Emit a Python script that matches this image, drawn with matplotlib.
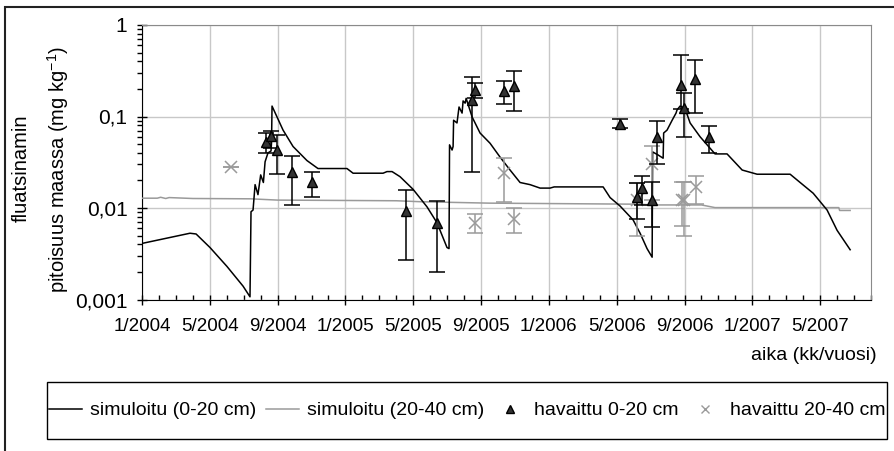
import matplotlib
matplotlib.use('Agg')
import matplotlib.pyplot as plt
from matplotlib.patches import Rectangle
from matplotlib.lines import Line2D
from matplotlib.ticker import FixedLocator, NullFormatter, LogLocator

plt.rcParams['font.family'] = ['Liberation Sans', 'DejaVu Sans']
plt.rcParams['mathtext.default'] = 'regular'

# time in months since 1/2004
sim_top_t = [0.00, 2.83, 3.19, 4.01, 5.01, 5.96, 6.37, 6.43, 6.55, 6.67, 6.84, 7.00, 7.16, 7.26,
             7.43, 7.61, 7.64, 7.67, 8.32, 8.91, 9.73, 10.38, 12.09, 12.45, 14.22, 14.45, 14.75,
             15.22, 15.99, 16.81, 17.40, 17.99, 18.11, 18.14, 18.29, 18.35, 18.38, 18.58, 18.70,
             18.88, 18.94, 19.06, 19.12, 19.47, 19.94, 20.53, 21.12, 21.71, 22.30, 22.89, 23.48,
             24.07, 24.31, 27.20, 27.61, 28.20, 28.97, 29.38, 29.79, 30.09, 30.12, 30.44, 30.74,
             30.77, 30.97, 31.27, 31.50, 31.56, 31.74, 31.92, 31.98, 32.33, 32.92, 33.80, 34.51,
             35.40, 36.28, 38.23, 38.82, 39.59, 40.41, 41.00, 41.77]
sim_top_c = [0.0041, 0.0053, 0.0052, 0.0037, 0.0023, 0.0014, 0.00107, 0.0091, 0.0095, 0.018, 0.014,
             0.023, 0.019, 0.032, 0.040, 0.042, 0.052, 0.13, 0.071, 0.047, 0.033, 0.027, 0.027,
             0.024, 0.024, 0.025, 0.025, 0.022, 0.016, 0.0103, 0.0069, 0.0037, 0.0036, 0.049,
             0.043, 0.047, 0.091, 0.085, 0.127, 0.109, 0.148, 0.14, 0.158, 0.099, 0.066, 0.051,
             0.036, 0.026, 0.019, 0.018, 0.0165, 0.0165, 0.017, 0.017, 0.013, 0.0105, 0.0074,
             0.0053, 0.0036, 0.0029, 0.041, 0.038, 0.035, 0.066, 0.071, 0.091, 0.109, 0.118,
             0.13, 0.125, 0.13, 0.085, 0.06, 0.039, 0.039, 0.026, 0.0234, 0.0234, 0.019, 0.0145,
             0.0095, 0.0057, 0.0035]

sim_sub_t = [0.0, 0.9, 1.1, 1.4, 1.6, 3.0, 6.4, 8.0, 15.0, 16.5, 20.5, 29.4, 30.0, 33.0, 33.8,
             41.1, 41.15, 41.77]
sim_sub_c = [0.0128, 0.0128, 0.0131, 0.0127, 0.0130, 0.0127, 0.0126, 0.0122, 0.0120, 0.0117,
             0.0113, 0.0110, 0.0108, 0.0108, 0.0101, 0.0101, 0.0094, 0.0094]

obs_top_t = [7.32, 7.59, 7.98, 8.83, 10.05, 15.58, 17.39, 19.45, 19.65, 21.36, 21.95, 28.20,
             29.19, 29.48, 30.07, 30.40, 31.80, 31.98, 32.63, 33.47]
obs_top_c = [0.053, 0.061, 0.043, 0.0245, 0.019, 0.0093, 0.0068, 0.152, 0.195, 0.19, 0.215, 0.083,
             0.0133, 0.0164, 0.0123, 0.06, 0.22, 0.123, 0.255, 0.06]
obs_top_lo = [0.040, 0.045, 0.0235, 0.0108, 0.0132, 0.0027, 0.0020, 0.025, 0.158, 0.137, 0.116,
              0.074, 0.0076, 0.0108, 0.0062, 0.030, 0.12, 0.059, 0.11, 0.040]
obs_top_hi = [0.066, 0.070, 0.063, 0.037, 0.0245, 0.0157, 0.0118, 0.27, 0.23, 0.246, 0.316, 0.095,
              0.0187, 0.0225, 0.019, 0.089, 0.47, 0.18, 0.41, 0.079]

obs_sub_t = [5.23, 19.65, 21.36, 21.95, 29.19, 30.07, 31.84, 31.98, 32.67]
obs_sub_c = [0.028, 0.0068, 0.024, 0.0076, 0.0123, 0.030, 0.0123, 0.0123, 0.0168]
obs_sub_lo = [0.028, 0.0053, 0.0117, 0.0053, 0.0049, 0.0123, 0.0063, 0.005, 0.011]
obs_sub_hi = [0.028, 0.0087, 0.035, 0.0101, 0.0187, 0.048, 0.019, 0.019, 0.0226]

x_ticks = [0, 4, 8, 12, 16, 20, 24, 28, 32, 36, 40]
x_labels = ['1/2004', '5/2004', '9/2004', '1/2005', '5/2005', '9/2005', '1/2006',
            '5/2006', '9/2006', '1/2007', '5/2007']
y_ticks = [0.001, 0.01, 0.1, 1]
y_labels = ['0,001', '0,01', '0,1', '1']

W, H = 894, 451
fig = plt.figure(figsize=(W / 100, H / 100), dpi=100)
ax = fig.add_axes([142 / W, 1 - 299.5 / H, (871 - 142) / W, (299.5 - 25) / H])

ax.set_yscale('log')
ax.set_xlim(0, 43)
ax.set_ylim(0.001, 1)

ax.plot(sim_sub_t, sim_sub_c, color='#9a9a9a', lw=1.1, zorder=3)
ax.plot(sim_top_t, sim_top_c, color='black', lw=1.1, zorder=4)

top_err = [[c - lo for c, lo in zip(obs_top_c, obs_top_lo)],
           [hi - c for c, hi in zip(obs_top_c, obs_top_hi)]]
sub_err = [[c - lo for c, lo in zip(obs_sub_c, obs_sub_lo)],
           [hi - c for c, hi in zip(obs_sub_c, obs_sub_hi)]]

ax.errorbar(obs_sub_t, obs_sub_c, yerr=sub_err, fmt='x', color='#9a9a9a', ms=8, mew=1.1,
            ecolor='#9a9a9a', elinewidth=1.1, capsize=6, capthick=1.1, zorder=5)
ax.errorbar(obs_top_t, obs_top_c, yerr=top_err, fmt='^', color='#333333', mec='black', ms=7.5,
            ecolor='black', elinewidth=1.1, capsize=6, capthick=1.1, zorder=6)

# axes styling
ax.set_xticks(x_ticks)
ax.set_xticklabels(x_labels, fontsize=13.5)
ax.xaxis.set_minor_locator(FixedLocator(list(range(0, 44))))
ax.tick_params(axis='x', which='major', direction='inout', length=7, width=1, pad=10)
ax.tick_params(axis='x', which='minor', direction='in', length=3.6, width=1)

ax.yaxis.set_major_locator(FixedLocator(y_ticks))
ax.set_yticklabels(y_labels, fontsize=15)
ax.yaxis.set_minor_locator(LogLocator(base=10, subs=range(2, 10)))
ax.yaxis.set_minor_formatter(NullFormatter())
ax.tick_params(axis='y', which='major', direction='inout', length=7, width=1, pad=7)
ax.tick_params(axis='y', which='minor', direction='out', length=3.6, width=1)

ax.grid(True, which='major', color='#c8c8c8', lw=1)
ax.set_axisbelow(True)
ax.spines['top'].set_color('#8a8a8a')
ax.spines['right'].set_color('#8a8a8a')
ax.spines['left'].set_color('black')
ax.spines['bottom'].set_color('black')

fig.text(877 / W, 1 - 355 / H, 'aika (kk/vuosi)', ha='right', va='center', fontsize=14)
fig.text(21 / W, 1 - 168 / H, 'fluatsinamin', rotation=90, ha='center', va='center', fontsize=14.5)
fig.text(58 / W, 1 - 170 / H, 'pitoisuus maassa (mg kg$^{-1}$)', rotation=90,
         ha='center', va='center', fontsize=14.5)

# outer frame (cut off on the right and bottom)
fig.patches.append(Rectangle((5 / W, -0.2), 1.2, 1.2 - 7 / H, transform=fig.transFigure,
                             fill=False, ec='#222222', lw=1.5))

# legend box
lx0, ly0, lx1, ly1 = 47, 382, 887, 439
fig.patches.append(Rectangle((lx0 / W, 1 - ly1 / H), (lx1 - lx0) / W, (ly1 - ly0) / H,
                             transform=fig.transFigure, fill=False, ec='black', lw=1))
handles = [
    Line2D([], [], color='black', lw=1.1),
    Line2D([], [], color='#9a9a9a', lw=1.1),
    Line2D([], [], ls='none', marker='^', color='#333333', mec='black', ms=6),
    Line2D([], [], ls='none', marker='x', color='#9a9a9a', ms=6, mew=1),
]
labels = ['simuloitu (0-20 cm)', 'simuloitu (20-40 cm)', 'havaittu 0-20 cm', 'havaittu 20-40 cm']
fig.legend(handles, labels, loc='center', ncol=4, frameon=False, fontsize=14,
           bbox_to_anchor=((lx0 + lx1) / 2 / W, 1 - (ly0 + ly1) / 2 / H),
           handlelength=1.7, handletextpad=0.4, columnspacing=0.5)

fig.savefig('out.png', dpi=100)
